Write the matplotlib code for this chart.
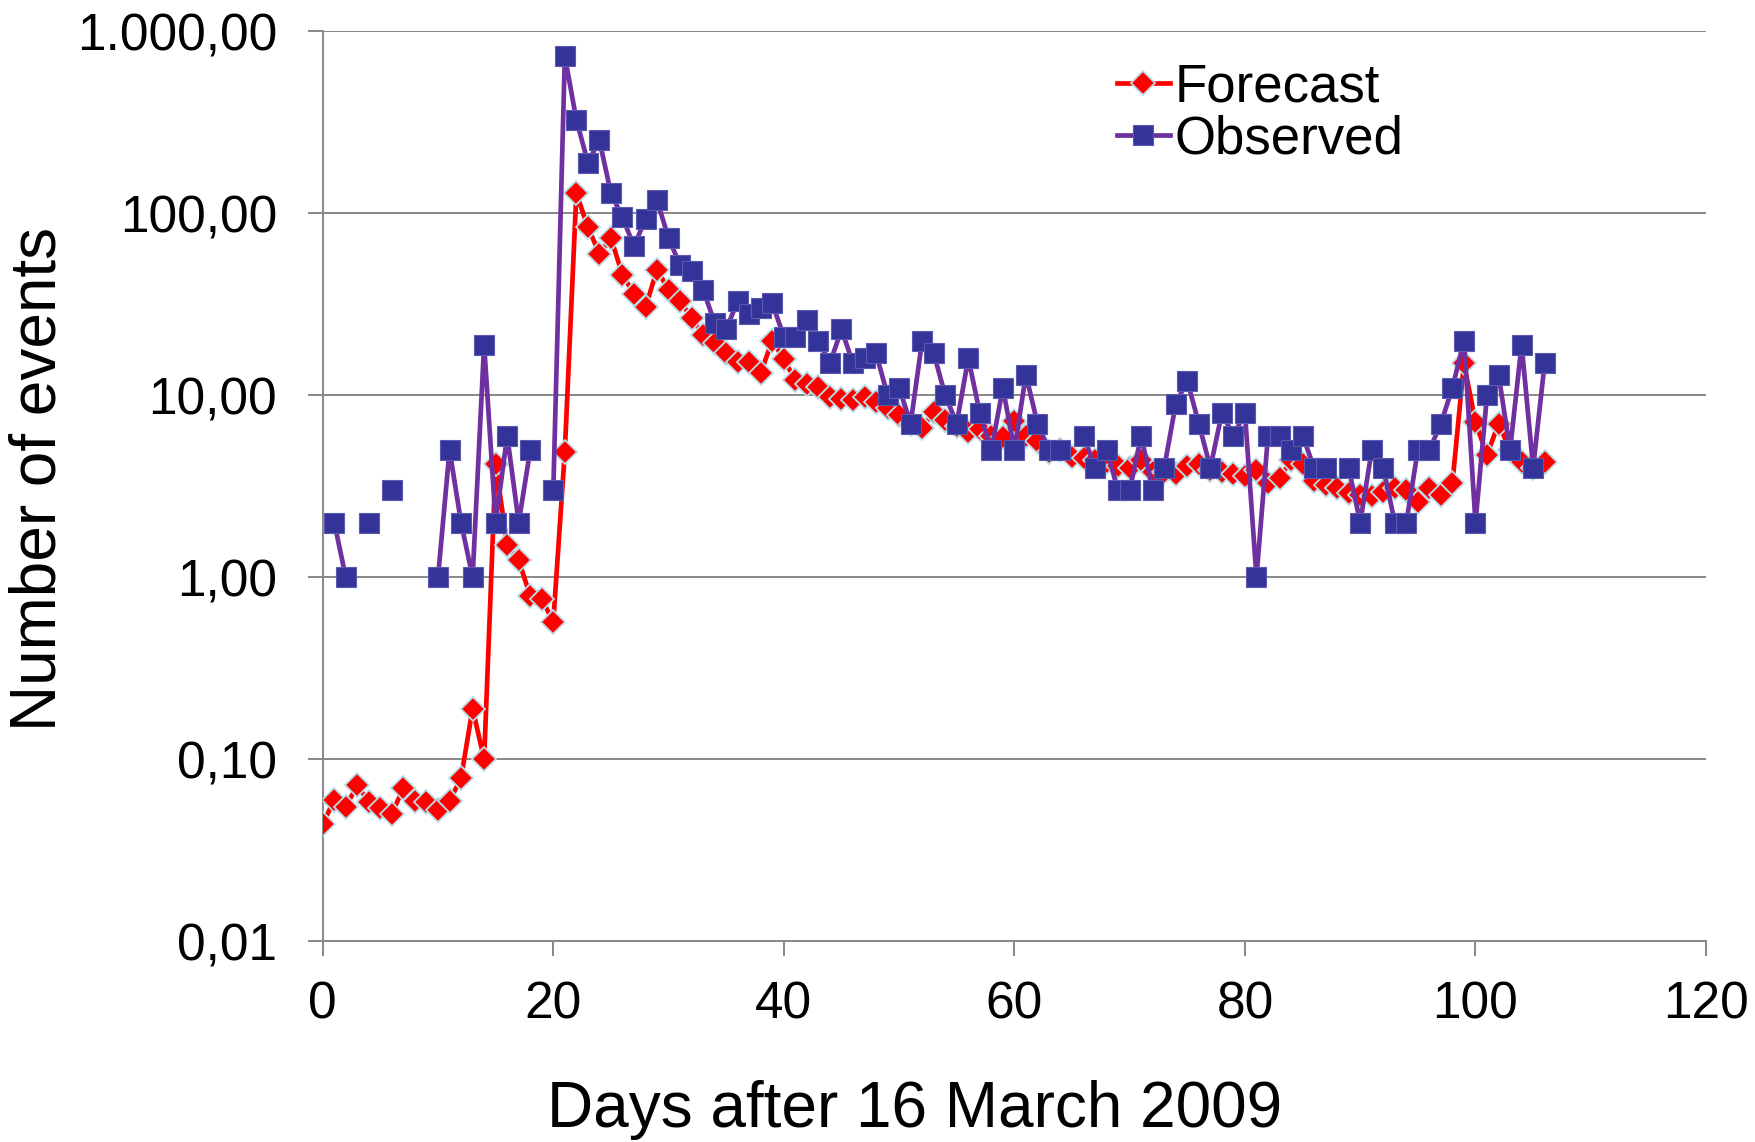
import numpy as np
import matplotlib
matplotlib.use("Agg")
import matplotlib.pyplot as plt
from matplotlib.ticker import FixedLocator, FuncFormatter, NullLocator

plt.rcParams['font.family'] = ['Liberation Sans', 'DejaVu Sans']

# data: days after 16 March 2009
days = np.arange(0, 107)

forecast = [0.044, 0.060, 0.055, 0.072, 0.058, 0.054, 0.050, 0.070, 0.059, 0.058,
            0.053, 0.059, 0.079, 0.19, 0.10, 4.2, 1.5, 1.24, 0.79, 0.76,
            0.57, 4.9, 129, 84, 60, 73, 46, 36, 30.5, 49,
            38, 33, 26.5, 21.5, 19.5, 17, 15.2, 15.3, 13.3, 20,
            15.8, 12.1, 11.6, 11.1, 9.8, 9.6, 9.4, 9.8, 9.2, 8.5,
            7.8, 7.0, 6.6, 8.1, 7.3, 6.8, 6.3, 6.5, 6.0, 5.9,
            7.2, 6.0, 5.6, 4.9, 5.0, 4.6, 4.5, 4.4, 4.3, 4.1,
            4.0, 4.4, 3.8, 3.8, 3.7, 4.1, 4.2, 3.9, 3.8, 3.7,
            3.6, 3.9, 3.3, 3.5, 4.4, 4.2, 3.4, 3.2, 3.1, 2.9,
            2.85, 2.8, 2.95, 3.1, 3.0, 2.6, 3.1, 2.85, 3.3, 15,
            7.1, 4.7, 7.0, 5.0, 4.3, 4.0, 4.3]

nan = np.nan
observed = [nan, 2, 1, nan, 2, nan, 3, nan, nan, nan,
            1, 5, 2, 1, 19, 2, 6, 2, 5, nan,
            3, 730, 327, 190, 252, 129, 95, 66, 93, 118,
            73, 52, 48, 38, 25, 23, 33, 28, 30, 32,
            21, 21, 26, 20, 15, 23, 15, 16, 17, 10,
            11, 7, 20, 17, 10, 7, 16, 8, 5, 11,
            5, 13, 7, 5, 5, nan, 6, 4, 5, 3,
            3, 6, 3, 4, 9, 12, 7, 4, 8, 6,
            8, 1, 6, 6, 5, 6, 4, 4, nan, 4,
            2, 5, 4, 2, 2, 5, 5, 7, 11, 20,
            2, 10, 13, 5, 19, 4, 15]

yticks = [0.01, 0.1, 1, 10, 100, 1000]
ytick_labels = ['0,01', '0,10', '1,00', '10,00', '100,00', '1.000,00']
xticks = [0, 20, 40, 60, 80, 100, 120]

fig = plt.figure(figsize=(17.55, 11.42), dpi=100)
ax = fig.add_axes([0.1839, 0.1757, 0.7882, 0.7969])

ax.plot(days, forecast, color='#FF0000', lw=3.4, marker='D', ms=12.5,
        mfc='#FF0000', mec='#B7DEE8', mew=1.3, label='Forecast', zorder=3)
ax.plot(days, observed, color='#7030A0', lw=3.4, marker='s', ms=14,
        mfc='#333399', mec='#5A5AB0', mew=0.8, label='Observed', zorder=4)

ax.set_yscale('log')
ax.set_ylim(0.01, 1000)
ax.set_xlim(0, 120)
ax.yaxis.set_major_locator(FixedLocator(yticks))
ax.yaxis.set_minor_locator(NullLocator())
ax.yaxis.set_major_formatter(FuncFormatter(lambda v, p: ytick_labels[yticks.index(min(yticks, key=lambda t: abs(np.log10(t) - np.log10(v))))]))
ax.set_xticks(xticks)

ax.grid(True, axis='y', color='#888888', lw=1.4, zorder=0)
for s in ['top', 'right']:
    ax.spines[s].set_visible(False)
for s in ['left', 'bottom']:
    ax.spines[s].set_color('#888888')
    ax.spines[s].set_linewidth(1.4)
ax.tick_params(axis='both', direction='out', length=11, width=1.4, color='#888888',
               labelsize=37, labelcolor='black')
ax.tick_params(axis='y', pad=22)
ax.tick_params(axis='x', pad=17)

fig.text(0.521, 0.028, 'Days after 16 March 2009', fontsize=46, ha='center', va='center')
fig.text(0.0222, 0.5806, 'Number of events', fontsize=46, rotation=90, ha='center', va='center')

ax.legend(loc='upper left', bbox_to_anchor=(0.555, 0.995), frameon=False, fontsize=38,
          handlelength=1.0, handletextpad=0.1, labelspacing=0.05, borderpad=0)

plt.savefig('out.png', dpi=100)
